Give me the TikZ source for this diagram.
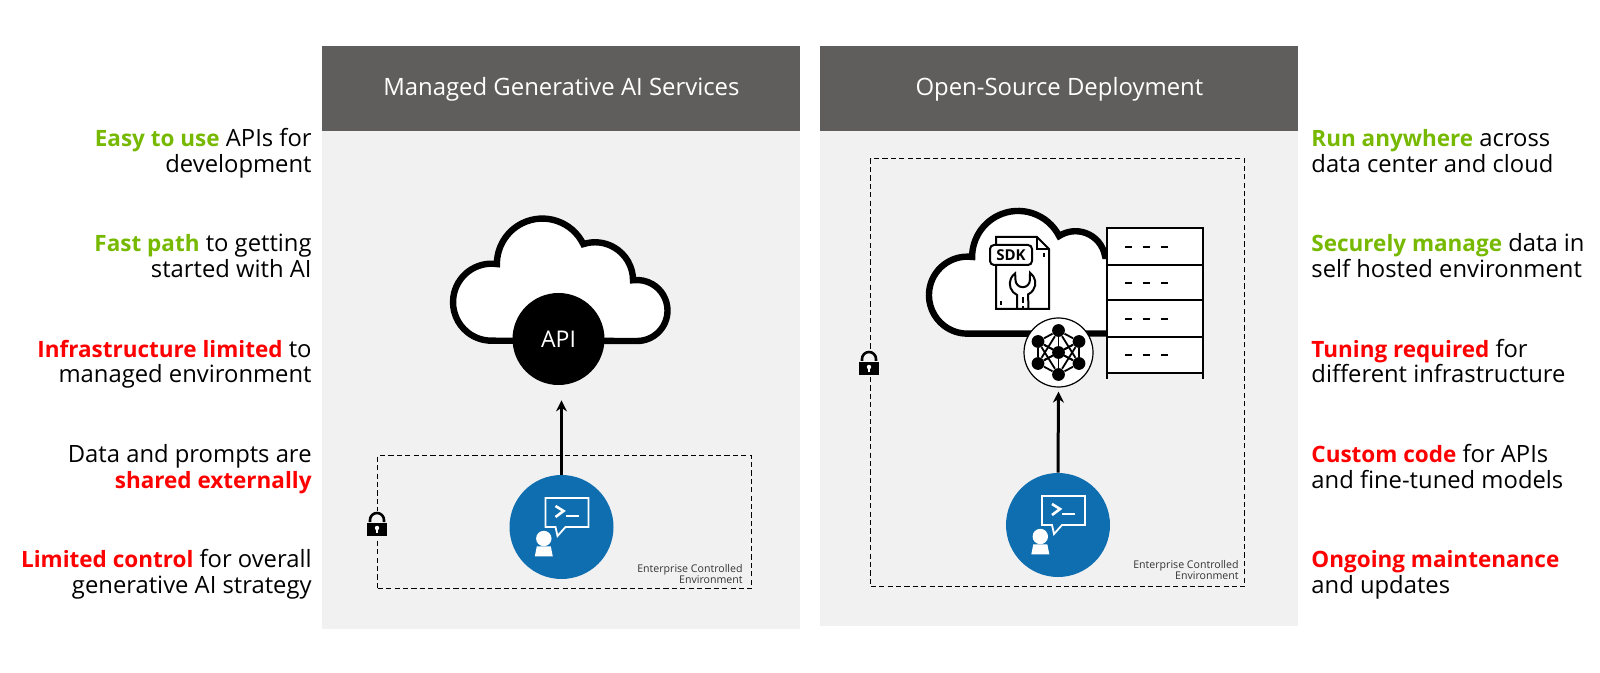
\documentclass[tikz,border=0pt]{standalone}
\usepackage{fontspec}
\setmainfont{Open Sans}
\usetikzlibrary{arrows.meta, positioning}
\definecolor{headgray}{RGB}{95, 94, 92}
\definecolor{panelgray}{RGB}{241, 241, 241}
\definecolor{goodgreen}{RGB}{118, 185, 0}
\definecolor{badred}{RGB}{255, 0, 0}
\definecolor{userblue}{RGB}{15, 110, 176}
\newcommand{\goodword}[1]{{\fontsize{11.25}{13}\selectfont\bfseries\textcolor{goodgreen}{#1}}}
\newcommand{\badword}[1]{{\fontsize{11.25}{13}\selectfont\bfseries\textcolor{badred}{#1}}}

\begin{document}
\begin{tikzpicture}[
  x=0.5pt, y=-0.5pt,
  panelbox/.style={fill=panelgray, draw=none, minimum width=239pt, inner sep=0pt, anchor=north west},
  headbox/.style={fill=headgray, text=white, minimum width=239pt, minimum height=42.5pt, inner sep=0pt, anchor=north west, font=\fontsize{11.95}{14}\selectfont},
  leftnote/.style={anchor=base east, align=right, inner sep=0pt, font=\fontsize{11.9}{13}\selectfont},
  rightnote/.style={anchor=base west, align=left, inner sep=0pt, font=\fontsize{11.9}{13}\selectfont},
  envbox/.style={draw=black, line width=0.7pt, dash pattern=on 2.6pt off 1.6pt, fill=none, inner sep=0pt, anchor=north west},
  envlabel/.style={anchor=south east, align=right, inner sep=0pt, text=black!80, font=\fontsize{5.3}{5.6}\selectfont},
  usercircle/.style={circle, fill=userblue, minimum size=52pt, inner sep=0pt},
  apicircle/.style={circle, fill=black, text=white, minimum size=46pt, inner sep=0pt, font=\fontsize{11.5}{14}\selectfont},
  netcircle/.style={circle, draw=black, fill=white, line width=0.6pt, minimum size=34.5pt, inner sep=0pt},
  netdot/.style={circle, fill=black, minimum size=6.4pt, inner sep=0pt},
  cloudline/.style={draw=black, fill=white, line width=3.2pt},
  callarrow/.style={-{Stealth[length=5.5pt, width=5.5pt]}, line width=1.5pt, black},
  iconline/.style={draw=black, line width=1pt},
  usericon/.pic={
    \draw[white, line width=0.9pt, line join=miter] (-16,-29) -- (27,-29) -- (27,0) -- (4,0) -- (-4,9) -- (-6,0) -- (-16,0) -- cycle;
    \draw[white, line width=1.3pt] (-6,-21) -- (2,-16) -- (-6,-10);
    \draw[white, line width=1.1pt] (4,-11) -- (17,-11);
    \fill[white] (-17.7,11.5) circle[radius=7.7];
    \fill[white] (-24.7,19.3) -- (-10.7,19.3) -- (-8.7,29.3) -- (-26.7,29.3) -- cycle;
  },
  lockicon/.pic={
    \fill[panelgray] (-8,-14) rectangle (8,13);
    \draw[black, line width=1.3pt] (-7,-3) -- (-7,-5) arc[start angle=180, end angle=360, radius=7] -- (7,-3);
    \fill[black] (-10,-2) rectangle (10,11);
    \fill[white] (0,3) circle[radius=2.2];
    \fill[white] (-0.9,3) rectangle (0.9,8);
  }
]
  \useasboundingbox (0,0) rectangle (1600,673);

  % Panels
  \node[panelbox, minimum height=291.5pt] (leftpanel) at (322,46) {};
  \node[panelbox, minimum height=290pt] (rightpanel) at (820,46) {};
  \node[headbox] (lefthead) at (322,46) {Managed Generative AI Services};
  \node[headbox] (righthead) at (820,46) {Open-Source Deployment};

  % Notes on the left
  \node[leftnote] (lnote1) at (312,173) {\goodword{Easy to use} APIs for\\development};
  \node[leftnote] (lnote2) at (312,278) {\goodword{Fast path} to getting\\started with AI};
  \node[leftnote] (lnote3) at (312,383) {\badword{Infrastructure limited} to\\managed environment};
  \node[leftnote] (lnote4) at (312,488) {Data and prompts are\\\badword{shared externally}};
  \node[leftnote] (lnote5) at (312,593) {\badword{Limited control} for overall\\generative AI strategy};

  % Notes on the right
  \node[rightnote] (rnote1) at (1311,173) {\goodword{Run anywhere} across\\data center and cloud};
  \node[rightnote] (rnote2) at (1311,278) {\goodword{Securely manage} data in\\self hosted environment};
  \node[rightnote] (rnote3) at (1311,383) {\badword{Tuning required} for\\different infrastructure};
  \node[rightnote] (rnote4) at (1311,488) {\badword{Custom code} for APIs\\and fine-tuned models};
  \node[rightnote] (rnote5) at (1311,593) {\badword{Ongoing maintenance}\\and updates};

  % Enterprise boxes
  \node[envbox, minimum width=187pt, minimum height=66.5pt] (leftenv) at (377,455) {};
  \node[envbox, minimum width=187pt, minimum height=214pt] (rightenv) at (870,158) {};
  \node[envlabel] (leftenvtext) at (743,584) {Enterprise Controlled\\Environment};
  \node[envlabel] (rightenvtext) at (1239,580) {Enterprise Controlled\\Environment};
  \pic at (377,525) {lockicon};
  \pic at (869,364) {lockicon};

  % Managed side
  \draw[cloudline] (637,341) arc[start angle=90, end angle=-97.5, radius=30.5]
    arc[start angle=0, end angle=-108, radius=38]
    arc[start angle=-26, end angle=-180, radius=45.5]
    arc[start angle=-82, end angle=-270, radius=38.5] -- cycle;
  \node[apicircle] (api) at (558.5,339) {API};
  \node[usercircle] (leftuser) at (561.5,527) {};
  \pic at (leftuser) {usericon};
  \draw[callarrow, shorten >=7.5pt] (leftuser.north) -- (leftuser.north |- api.south);

  % Open-source side
  \draw[cloudline] (1107,256) -- (1105,256) arc[start angle=-10, end angle=-123, radius=30]
    arc[start angle=-27, end angle=-180, radius=46]
    arc[start angle=-83, end angle=-270, radius=38.5] -- (1107,333.5);

  % Server rack
  \fill[white] (1107,228) rectangle (1203,373);
  \draw[black, line width=1.2pt] (1107,227) -- (1107,379);
  \draw[black, line width=1pt] (1203,227) -- (1203,379);
  \foreach \rowy in {228,265,300,337,373}
    \draw[black, line width=1pt] (1107,\rowy) -- (1203,\rowy);
  \foreach \rowy in {247,283,319,355}
    \foreach \dashx in {1125,1143,1161}
      \draw[black, line width=1pt] (\dashx,\rowy) -- ++(7,0);

  % SDK file
  \draw[iconline, fill=white] (996,237) -- (1037,237) -- (1049,249) -- (1049,309) -- (996,309) -- cycle;
  \draw[iconline] (1037,237) -- (1037,249) -- (1049,249);
  \draw[iconline, dash pattern=on 2pt off 1.5pt] (1044,253) -- (1044,259);
  \draw[iconline, dash pattern=on 2pt off 1.5pt] (1001,301) -- (1001,308);
  \node[draw=black, line width=1pt, fill=white, rounded corners=2pt, minimum width=21pt, minimum height=10pt, inner sep=0pt, font=\fontsize{7.5}{8}\bfseries] (sdk) at (1011,255) {SDK};
  \draw[iconline] (1017,309) -- (1017,295) arc[start angle=115, end angle=235, radius=12.5] -- (1015.5,280)
    arc[start angle=180, end angle=0, radius=7.2] -- (1030,272.8) arc[start angle=-55, end angle=65, radius=12.5] -- (1028.4,309);
  \draw[iconline, dash pattern=on 3pt off 1.5pt] (1022.7,297) -- (1022.7,308);

  % Network badge
  \node[netcircle] (net) at (1058.5,352.5) {};
  \foreach \px/\py [count=\i] in {0/-22, 20.5/-11, 20.5/11, 0/22, -20.5/11, -20.5/-11, 0/0}
    \node[netdot] (n\i) at ([shift={(\px,\py)}]net.center) {};
  \foreach \a/\b in {1/2, 2/3, 3/4, 4/5, 5/6, 6/1, 1/7, 2/7, 3/7, 4/7, 5/7, 6/7, 1/3, 1/5, 4/2, 4/6, 2/5, 6/3}
    \draw[black, line width=0.9pt] (n\a) -- (n\b);

  \node[usercircle] (rightuser) at (1058,525) {};
  \pic at (rightuser) {usericon};
  \draw[callarrow, shorten >=2pt] (rightuser.north) -- (net.south);
\end{tikzpicture}
\end{document}
